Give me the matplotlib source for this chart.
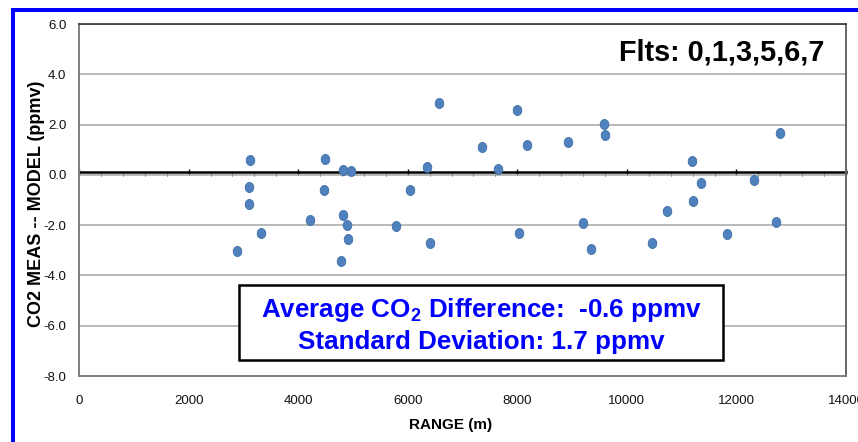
import numpy as np
import matplotlib

matplotlib.use("Agg")
import matplotlib.pyplot as plt
from matplotlib.patches import Rectangle
from matplotlib.path import Path
from matplotlib.ticker import FormatStrFormatter, MultipleLocator

plt.rcParams["font.family"] = ["Liberation Sans", "DejaVu Sans"]
plt.rcParams["axes.unicode_minus"] = False
plt.rcParams["mathtext.fontset"] = "custom"
plt.rcParams["mathtext.rm"] = "Liberation Sans"
plt.rcParams["mathtext.bf"] = "Liberation Sans:bold"

# CO2 measured minus model, per sample, against range from the source
range_m = [
    2880, 3130, 3100, 3100, 3320, 4220, 4490, 4470, 4820, 4970,
    4810, 4890, 4910, 4790, 5790, 6050, 6350, 6400, 6580, 7360,
    7640, 8000, 8170, 8040, 8930, 9200, 9350, 9580, 9600, 10460,
    10740, 11190, 11210, 11350, 11830, 12320, 12730, 12790,
]
co2_diff = [
    -3.03, 0.59, -0.47, -1.14, -2.30, -1.80, 0.62, -0.60, 0.21, 0.15,
    -1.61, -2.01, -2.55, -3.41, -2.02, -0.59, 0.30, -2.70, 2.87, 1.11,
    0.22, 2.58, 1.18, -2.31, 1.32, -1.90, -2.96, 2.01, 1.59, -2.72,
    -1.43, 0.56, -1.05, -0.31, -2.36, -0.22, -1.89, 1.68,
]
flights = "Flts: 0,1,3,5,6,7"
avg_diff = -0.6
std_dev = 1.7
axis_cross = 0.1

# slightly tall ellipse, like the spreadsheet markers
theta = np.linspace(0, 2 * np.pi, 40)
ellipse = Path(np.column_stack([0.43 * np.cos(theta), 0.5 * np.sin(theta)]), closed=True)

fig = plt.figure(figsize=(8.58, 4.42), dpi=100)
ax = fig.add_axes([0.0921, 0.1493, 0.8939, 0.7964])

ax.plot(range_m, co2_diff, linestyle="none", marker=ellipse, markersize=7.2,
        markerfacecolor="#4f81bd", markeredgecolor="#3d6ea8", markeredgewidth=0.6,
        zorder=4)

ax.set_xlim(0, 14000)
ax.set_ylim(-8, 6)
ax.xaxis.set_major_locator(MultipleLocator(2000))
ax.yaxis.set_major_locator(MultipleLocator(2))
ax.yaxis.set_major_formatter(FormatStrFormatter("%.1f"))
ax.tick_params(axis="both", length=0, labelsize=9.5, colors="#111111")
ax.tick_params(axis="x", pad=14)
ax.tick_params(axis="y", pad=9)
ax.grid(axis="y", color="#a6a6a6", linewidth=1.1)
ax.set_axisbelow(True)

for side in ("left", "bottom"):
    ax.spines[side].set_color("#808080")
    ax.spines[side].set_linewidth(1.4)
ax.spines["top"].set_color("#333333")
ax.spines["top"].set_linewidth(1.2)
ax.spines["right"].set_color("#666666")
ax.spines["right"].set_linewidth(1.4)

# horizontal axis crossing just above zero, with its own tick marks
cross = ax.secondary_xaxis((axis_cross + 8) / 14)
for side in ("top", "bottom"):
    cross.spines[side].set_color("black")
    cross.spines[side].set_linewidth(1.8)
cross.xaxis.set_ticks_position("top")
cross.xaxis.set_major_locator(MultipleLocator(2000))
cross.xaxis.set_minor_locator(MultipleLocator(400))
cross.tick_params(axis="x", which="both", labeltop=False, labelbottom=False)
cross.tick_params(axis="x", which="major", direction="inout", length=5, width=1.0)
cross.tick_params(axis="x", which="minor", direction="in", length=3, width=0.8,
                  color="#555555")

ax.set_xlabel("RANGE (m)", fontsize=11, fontweight="bold")
ax.xaxis.set_label_coords(0.484, -0.118)
ax.set_ylabel("CO2 MEAS -- MODEL (ppmv)", fontsize=13, fontweight="bold")
ax.yaxis.set_label_coords(-0.044, 0.49)

ax.text(0.972, 0.8957, flights, transform=ax.transAxes, ha="right", va="baseline",
        fontsize=20.8, fontweight="bold", color="black")

# summary box
ax.add_patch(Rectangle((0.2086, 0.0455), 0.631, 0.213, transform=ax.transAxes,
                       facecolor="white", edgecolor="black", linewidth=1.8, zorder=5))
ax.text(0.5240, 0.1670, rf"Average CO$_\mathbf{{2}}$ Difference:  {avg_diff:.1f} ppmv",
        transform=ax.transAxes, ha="center", va="baseline", fontsize=18.7,
        fontweight="bold", color="#0000ff", zorder=6)
ax.text(0.5240, 0.0767, f"Standard Deviation: {std_dev:.1f} ppmv",
        transform=ax.transAxes, ha="center", va="baseline", fontsize=18.7,
        fontweight="bold", color="#0000ff", zorder=6)

# blue frame around the whole chart
fig.patches.append(Rectangle((0.0152, -0.2), 1.2, 0.9767 + 0.2, transform=fig.transFigure,
                             fill=False, edgecolor="#0000ff", linewidth=2.9))

fig.savefig("out.png", dpi=100)
